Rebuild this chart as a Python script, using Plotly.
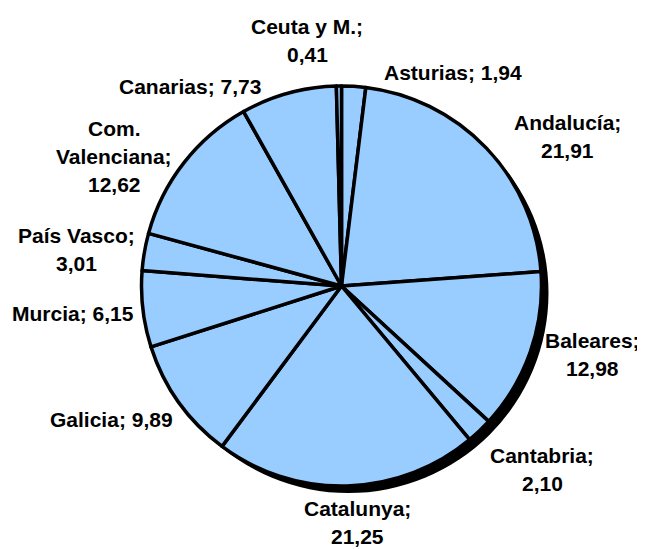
import plotly.graph_objects as go

# Data: share by region (%), clockwise from 12 o'clock
regions = ["Asturias", "Andalucía", "Baleares", "Cantabria", "Catalunya",
           "Galicia", "Murcia", "País Vasco", "Com.<br>Valenciana",
           "Canarias", "Ceuta y M."]
shares = [1.94, 21.91, 12.98, 2.10, 21.25, 9.89, 6.15, 3.01, 12.62, 7.73, 0.41]
# separator between name and value in each label (line break or space)
label_sep = [" ", "<br>", "<br>", "<br>", "<br>", " ", " ", "<br>", "<br>", " ", "<br>"]

# label centres in page pixels (layout only)
label_px = [(453, 72), (567, 136), (592, 354), (542, 469), (357, 522),
            (111, 419), (73, 313), (76, 249), (114, 156), (190, 87), (307, 41)]

W, H = 645, 549
off = 8            # page body margin
cx, cy, r = 341.5, 286, 200
shadow = 7
line_gap = 28


def dom(dx, dy):
    x0, y0 = cx - off + dx, cy - off + dy
    return dict(x=[(x0 - r) / W, (x0 + r) / W],
                y=[1 - (y0 + r) / H, 1 - (y0 - r) / H])


fig = go.Figure()

# drop shadow
fig.add_trace(go.Pie(
    values=[1], domain=dom(shadow, shadow), sort=False,
    marker=dict(colors=["black"], line=dict(color="black", width=0)),
    textinfo="none", hoverinfo="skip", showlegend=False
))

fig.add_trace(go.Pie(
    labels=[n.replace("<br>", " ") for n in regions], values=shares,
    domain=dom(0, 0), sort=False, direction="clockwise", rotation=0,
    marker=dict(colors=["#99CCFF"] * len(shares),
                line=dict(color="black", width=3.5)),
    textinfo="none", hoverinfo="label+value", showlegend=False
))

for name, v, sep, (px, py) in zip(regions, shares, label_sep, label_px):
    text = f"{name};{sep}" + f"{v:.2f}".replace(".", ",")
    lines = text.split("<br>")
    n = len(lines)
    for i, ln in enumerate(lines):
        ly = py - off + (i - (n - 1) / 2) * line_gap
        fig.add_annotation(
            x=(px - off) / W, y=1 - ly / H, xref="paper", yref="paper",
            text=f"<b>{ln}</b>", showarrow=False,
            xanchor="center", yanchor="middle", align="center",
            font=dict(family="Arial, Liberation Sans, sans-serif", size=21, color="black")
        )

fig.update_layout(
    width=W, height=H,
    margin=dict(l=0, r=0, t=0, b=0),
    paper_bgcolor="white", plot_bgcolor="white"
)

fig.write_html("out.html")
